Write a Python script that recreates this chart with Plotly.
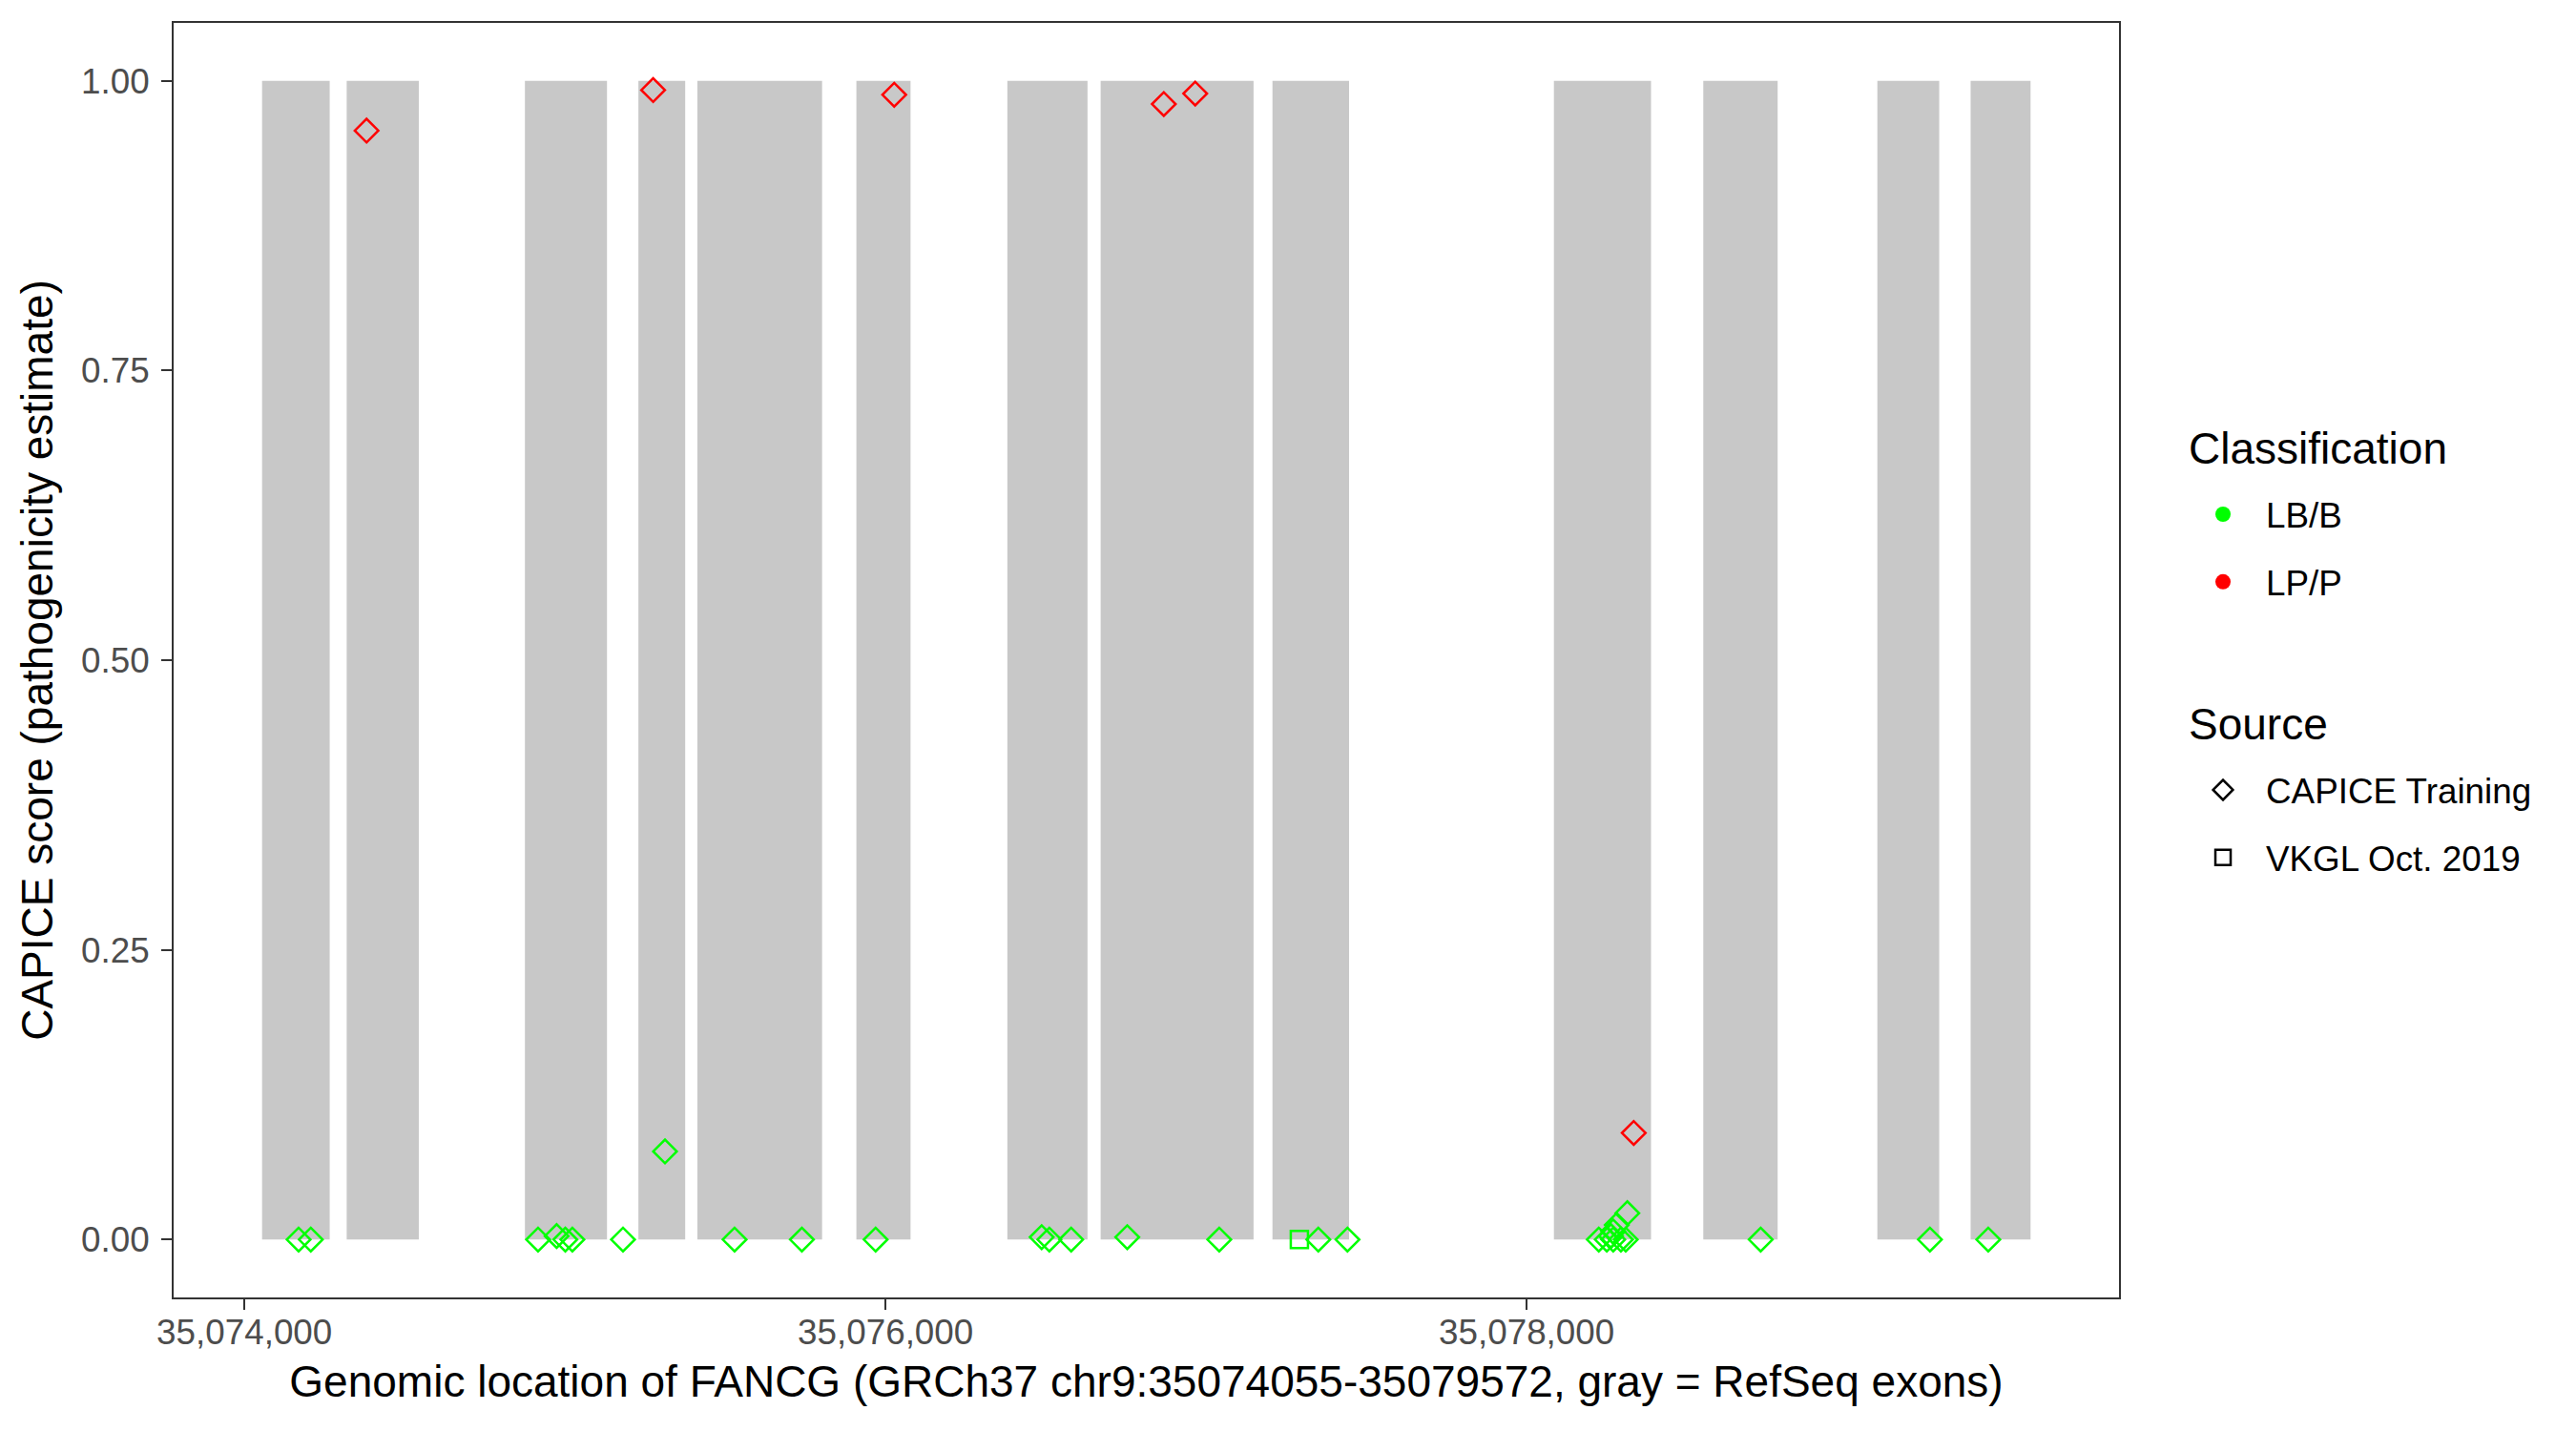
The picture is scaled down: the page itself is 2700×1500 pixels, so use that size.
import plotly.graph_objects as go

# RefSeq exons of FANCG (GRCh37 chr9)
exon_start = [35074055, 35074319, 35074875, 35075229, 35075413, 35075909, 35076380,
              35076671, 35077207, 35078085, 35078551, 35079094, 35079385]
exon_end = [35074266, 35074544, 35075131, 35075375, 35075802, 35076078, 35076630,
            35077148, 35077446, 35078388, 35078783, 35079287, 35079572]

# CAPICE training variants, LB/B
capice_lb_pos = [35074169, 35074207, 35074916, 35074974, 35075001, 35075023, 35075181,
                 35075312, 35075529, 35075739, 35075969, 35076487, 35076511, 35076579,
                 35076754, 35077041, 35077350, 35077441, 35078225, 35078250, 35078263,
                 35078270, 35078270, 35078281, 35078294, 35078309, 35078314, 35078730,
                 35079258, 35079440]
capice_lb_score = [0.0, 0.0, 0.0, 0.003, 0.0, 0.0, 0.0,
                   0.076, 0.0, 0.0, 0.0, 0.002, 0.0, 0.0,
                   0.002, 0.0, 0.0, 0.0, 0.0, 0.0, 0.003,
                   0.007, 0.0, 0.0125, 0.0, 0.0, 0.0227, 0.0,
                   0.0, 0.0]

# CAPICE training variants, LP/P
capice_lp_pos = [35074381, 35075275, 35076027, 35076868, 35076966, 35078334]
capice_lp_score = [0.957, 0.992, 0.988, 0.980, 0.989, 0.092]

# VKGL Oct. 2019 variants, LB/B
vkgl_lb_pos = [35077291]
vkgl_lb_score = [0.0]

x_ticks = [35074000, 35076000, 35078000]
y_ticks = [0.0, 0.25, 0.5, 0.75, 1.0]

GREEN = "#00FF00"
RED = "#FF0000"
FONT = "Liberation Sans, Arial, sans-serif"
TITLE_SIZE = 46
TEXT_SIZE = 36.8

fig = go.Figure()

# exons as gray rectangles in data coordinates
for s, e in zip(exon_start, exon_end):
    fig.add_shape(type="rect", xref="x", yref="y", x0=s, x1=e, y0=0, y1=1,
                  fillcolor="#C8C8C8", line=dict(width=0), layer="below")

fig.add_trace(go.Scatter(x=capice_lb_pos, y=capice_lb_score, mode="markers",
                         marker=dict(symbol="diamond-open", size=19, color=GREEN,
                                     line=dict(width=2.5, color=GREEN)),
                         showlegend=False, hoverinfo="x+y"))
fig.add_trace(go.Scatter(x=vkgl_lb_pos, y=vkgl_lb_score, mode="markers",
                         marker=dict(symbol="square-open", size=18, color=GREEN,
                                     line=dict(width=2.5, color=GREEN)),
                         showlegend=False, hoverinfo="x+y"))
fig.add_trace(go.Scatter(x=capice_lp_pos, y=capice_lp_score, mode="markers",
                         marker=dict(symbol="diamond-open", size=19, color=RED,
                                     line=dict(width=2.5, color=RED)),
                         showlegend=False, hoverinfo="x+y"))

# legend entries
fig.add_trace(go.Scatter(x=[None], y=[None], mode="markers", name="LB/B",
                         marker=dict(symbol="circle", size=19, color=GREEN),
                         legend="legend", legendgroup="lb"))
fig.add_trace(go.Scatter(x=[None], y=[None], mode="markers", name="LP/P",
                         marker=dict(symbol="circle", size=19, color=RED),
                         legend="legend", legendgroup="lp"))
fig.add_trace(go.Scatter(x=[None], y=[None], mode="markers", name="CAPICE Training",
                         marker=dict(symbol="diamond-open", size=19, color="black",
                                     line=dict(width=2.5, color="black")),
                         legend="legend2", legendgroup="capice"))
fig.add_trace(go.Scatter(x=[None], y=[None], mode="markers", name="VKGL Oct. 2019",
                         marker=dict(symbol="square-open", size=18, color="black",
                                     line=dict(width=2.5, color="black")),
                         legend="legend2", legendgroup="vkgl"))

axis_common = dict(showgrid=False, zeroline=False, showline=True, mirror=True,
                   linecolor="#333333", linewidth=2, ticks="outside", ticklen=11,
                   tickwidth=2, tickcolor="#333333",
                   tickfont=dict(family=FONT, size=TEXT_SIZE, color="#4D4D4D"))

legend_common = dict(font=dict(family=FONT, size=TEXT_SIZE, color="black"),
                     xanchor="left", yanchor="top", tracegroupgap=20,
                     itemwidth=80, bgcolor="rgba(0,0,0,0)")

fig.update_layout(
    width=2700, height=1500,
    margin=dict(l=174, r=487, t=16, b=148),
    paper_bgcolor="white", plot_bgcolor="white",
    font=dict(family=FONT, color="black"),
    xaxis=dict(range=[35073779.15, 35079847.85], tickvals=x_ticks, tickformat=",d",
               ticklabelstandoff=-8,
               title=dict(text="Genomic location of FANCG (GRCh37 chr9:35074055-35079572, gray = RefSeq exons)",
                          font=dict(family=FONT, size=TITLE_SIZE, color="black"), standoff=16),
               **axis_common),
    yaxis=dict(range=[-0.05, 1.05], tickvals=y_ticks, tickformat=".2f",
               ticklabelstandoff=5,
               title=dict(text="CAPICE score (pathogenicity estimate)",
                          font=dict(family=FONT, size=TITLE_SIZE, color="black"), standoff=15),
               **axis_common),
    legend=dict(x=1.0314, y=0.6373, **legend_common),
    legend2=dict(x=1.0314, y=0.4210, **legend_common),
    annotations=[
        dict(text="Classification", xref="paper", yref="paper", x=1.0350, y=0.6662,
             xanchor="left", yanchor="middle", showarrow=False,
             font=dict(family=FONT, size=TITLE_SIZE, color="black")),
        dict(text="Source", xref="paper", yref="paper", x=1.0350, y=0.4496,
             xanchor="left", yanchor="middle", showarrow=False,
             font=dict(family=FONT, size=TITLE_SIZE, color="black")),
    ],
)

fig.write_html("out.html")
